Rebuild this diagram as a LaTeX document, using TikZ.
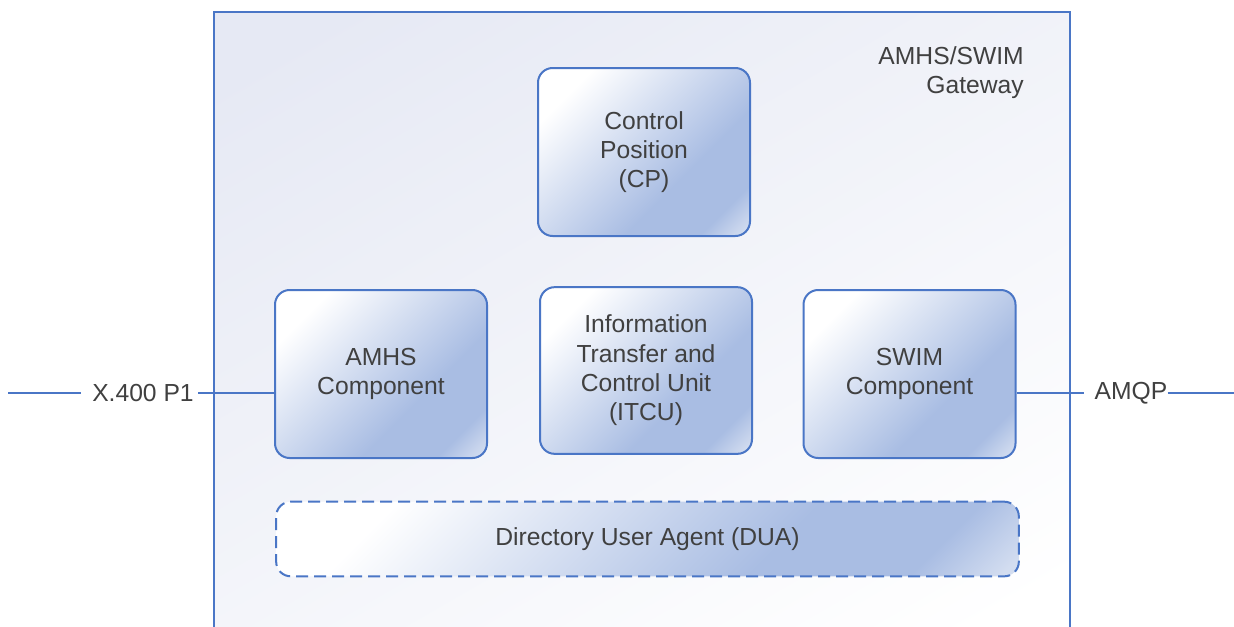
\documentclass[tikz,border=0pt]{standalone}
\usepackage{fontspec}
\setmainfont{Liberation Sans}
\definecolor{edge}{HTML}{4A76C6}
\definecolor{boxblue}{HTML}{A9BDE3}
\definecolor{boxlight}{HTML}{D3DDF0}
\definecolor{txt}{HTML}{404040}
\definecolor{gwtop}{HTML}{E6E9F4}
\pgfdeclarehorizontalshading{boxshade}{100bp}{color(0bp)=(white); color(25bp)=(white); color(62bp)=(boxblue); color(76bp)=(boxblue); color(84bp)=(boxlight); color(100bp)=(boxlight)}
\pgfdeclarehorizontalshading{gwshade}{100bp}{color(0bp)=(gwtop); color(20bp)=(gwtop); color(80bp)=(white); color(100bp)=(white)}
\tikzset{
  comp/.style={draw=edge, line width=1.5pt, rounded corners=11pt, shading=boxshade, shading angle=-45,
    minimum width=159pt, minimum height=126pt, align=center, text=txt, inner sep=0pt,
    font=\fontsize{18.5}{22}\selectfont},
  lbl/.style={text=txt, font=\fontsize{18.5}{22}\selectfont, inner sep=0pt},
  link/.style={draw=edge, line width=1.5pt}
}
\begin{document}
\begin{tikzpicture}[x=0.75pt,y=-0.75pt]
\useasboundingbox (0,0) rectangle (1234,626);
\begin{scope}
\clip (0,0) rectangle (1234,626);
\node[draw=edge, line width=1.5pt, shading=gwshade, shading angle=-60, minimum width=642pt, minimum height=480pt, inner sep=0pt, anchor=north west] (gw) at (213,11) {};
\end{scope}
\node[lbl, align=right, anchor=north east] (gwl) at (1024,46) {AMHS/SWIM\\Gateway};
\node[comp] (cp) at (644,152) {Control\\Position\\(CP)};
\node[comp] (amhs) at (381,374) {AMHS\\Component};
\node[comp, minimum height=125pt] (itcu) at (646,370.5) {Information\\Transfer and\\Control Unit\\(ITCU)};
\node[comp] (swim) at (909.5,374) {SWIM\\Component};
\node[comp, dashed, dash pattern=on 9pt off 4.5pt, minimum width=557pt, minimum height=56pt] (dua) at (647.5,539) {Directory User Agent (DUA)};
\node[lbl] (x400) at (143,393) {X.400 P1};
\node[lbl] (amqp) at (1131,393) {AMQP};
\coordinate (lend) at (8,393);
\coordinate (rend) at (1234,393);
\draw[link] (lend) -- ([xshift=-8pt]x400.west);
\draw[link] ([xshift=3pt]x400.east) -- (x400.east -| amhs.west);
\draw[link] (amqp.west -| swim.east) -- ([xshift=-8pt]amqp.west);
\draw[link] (amqp.east) -- (rend);
\end{tikzpicture}
\end{document}
